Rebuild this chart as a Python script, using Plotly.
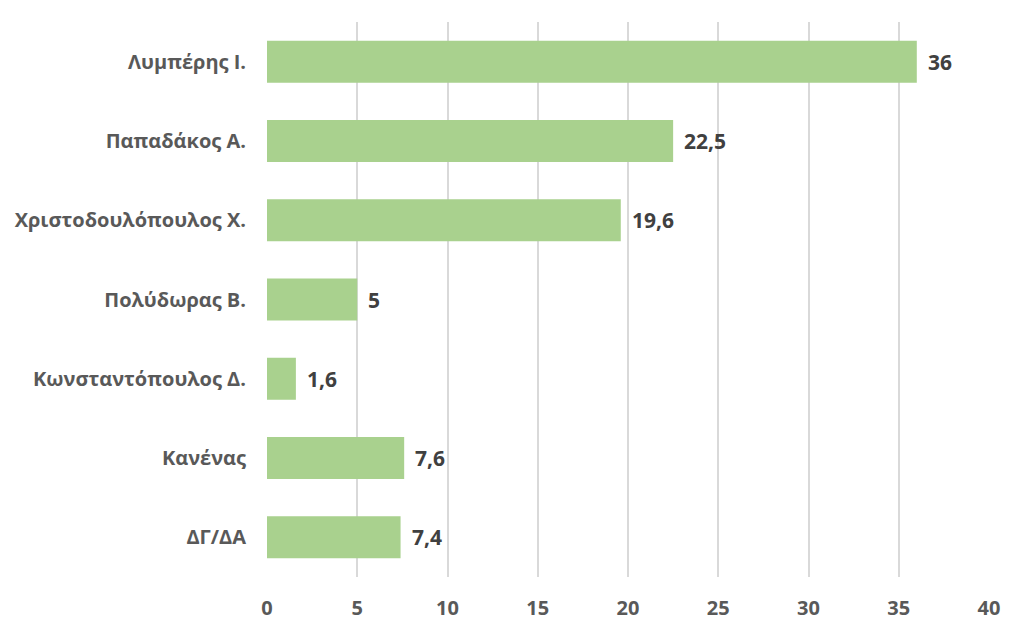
import plotly.graph_objects as go

categories = ["Λυμπέρης Ι.", "Παπαδάκος Α.", "Χριστοδουλόπουλος Χ.", "Πολύδωρας Β.",
              "Κωνσταντόπουλος Δ.", "Κανένας", "ΔΓ/ΔΑ"]
values = [36, 22.5, 19.6, 5, 1.6, 7.6, 7.4]
labels = ["36", "22,5", "19,6", "5", "1,6", "7,6", "7,4"]
x_ticks = [0, 5, 10, 15, 20, 25, 30, 35, 40]

font_family = "'Open Sans', sans-serif"

fig = go.Figure(go.Bar(
    x=values, y=categories, orientation="h",
    marker=dict(color="#A9D18E", line=dict(width=0)),
    hoverinfo="skip",
))

for v, c, t in zip(values, categories, labels):
    fig.add_annotation(x=v, y=c, text=t, showarrow=False,
                       xanchor="left", xshift=9,
                       font=dict(family=font_family, size=21, color="#404040", weight="bold"))

fig.update_layout(
    width=1024, height=636,
    margin=dict(l=267, r=35, t=22, b=59),
    plot_bgcolor="white", paper_bgcolor="white",
    bargap=0.47, showlegend=False,
    font=dict(family=font_family),
    xaxis=dict(range=[0, 40], tickvals=x_ticks, showgrid=True, gridcolor="#D9D9D9",
               gridwidth=1.5, zeroline=False, showline=False, ticks="",
               ticklabelstandoff=17,
               tickfont=dict(family=font_family, size=20, color="#595959", weight="bold")),
    yaxis=dict(categoryorder="array", categoryarray=categories[::-1],
               autorange=True, showgrid=False, zeroline=False, showline=False, ticks="",
               ticklabelstandoff=20,
               tickfont=dict(family=font_family, size=20, color="#595959", weight="bold")),
)

fig.write_html("out.html")
